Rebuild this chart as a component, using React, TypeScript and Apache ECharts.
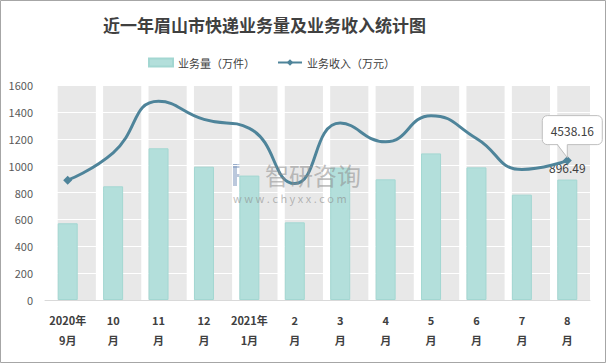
import React, { useEffect, useRef } from "react";
import * as echarts from "echarts";

const categories = [
  "2020年\n9月", "10\n月", "11\n月", "12\n月", "2021年\n1月", "2\n月",
  "3\n月", "4\n月", "5\n月", "6\n月", "7\n月", "8\n月",
];
const volume = [571, 846, 1129, 992, 926, 578, 985, 898, 1091, 987, 784, 896.49];
const income = [3900, 4790, 6470, 5880, 5590, 3790, 5760, 5150, 6000, 5260, 4250, 4538.16];
const bandValue = 1600;
const gridValues = [200, 400, 600, 800, 1000, 1200, 1400, 1600];
const legendNames = ["业务量（万件）", "业务收入（万元）"];
const titleText = "近一年眉山市快递业务量及业务收入统计图";

const FONT = "'Noto Sans CJK SC', 'Noto Sans', sans-serif";

export default function App() {
  const ref = useRef<HTMLDivElement>(null);
  useEffect(() => {
    const chart = echarts.init(ref.current as HTMLDivElement, null, { renderer: "svg" });
    const last = volume.length - 1;
    chart.setOption({
      animation: false,
      backgroundColor: "#ffffff",
      textStyle: { fontFamily: FONT },
      title: {
        text: titleText,
        left: 98,
        top: 11,
        textStyle: { fontSize: 17, fontWeight: "bold", color: "#404040", fontFamily: FONT },
      },
      legend: {
        data: [
          { name: legendNames[0], icon: "rect" },
          { name: legendNames[1] },
        ],
        left: 143,
        top: 52,
        itemWidth: 24,
        itemHeight: 8,
        itemGap: 22,
        textStyle: { fontSize: 11, color: "#404040", fontFamily: FONT },
      },
      grid: { left: 45, right: 16, top: 85, bottom: 64 },
      xAxis: {
        type: "category",
        data: categories,
        axisLine: { lineStyle: { color: "#d9d9d9" } },
        axisTick: { length: 5, lineStyle: { color: "#d9d9d9" } },
        axisLabel: {
          margin: 10,
          fontSize: 11,
          fontWeight: "bold",
          color: "#404040",
          lineHeight: 20,
          interval: 0,
          fontFamily: FONT,
        },
      },
      yAxis: [
        {
          type: "value",
          min: 0,
          max: 1600,
          interval: 200,
          axisLine: { show: false },
          axisTick: { show: false },
          splitLine: { show: false },
          axisLabel: {
            fontSize: 11,
            color: "#595959",
            margin: 12,
            fontFamily: FONT,
            formatter: (v: number) => String(v),
          },
        },
        {
          type: "value",
          min: 0,
          max: 7000,
          show: false,
          splitLine: { show: false },
        },
      ],
      series: [
        {
          type: "bar",
          name: "band",
          data: categories.map(() => bandValue),
          barWidth: "84%",
          itemStyle: { color: "#e8e8e8" },
          silent: true,
          z: 1,
          markLine: {
            silent: true,
            symbol: ["none", "none"],
            label: { show: false },
            lineStyle: { color: "#ffffff", width: 1, type: "solid" },
            data: gridValues.map((v) => ({ yAxis: v })),
            z: 2,
          },
        },
        {
          type: "bar",
          name: legendNames[0],
          data: volume.map((v, i) =>
            i === last
              ? {
                  value: v,
                  label: {
                    show: true,
                    position: "top",
                    distance: 6,
                    fontSize: 12,
                    color: "#404040",
                    fontFamily: FONT,
                  },
                }
              : v
          ),
          barWidth: 20,
          barGap: "-100%",
          itemStyle: { color: "#b3dfdb", borderColor: "#a3d7d2", borderWidth: 1 },
          z: 10,
        },
        {
          type: "line",
          name: legendNames[1],
          yAxisIndex: 1,
          smooth: 0.5,
          symbol: "diamond",
          symbolSize: 9,
          data: income.map((v, i) =>
            i === 0 || i === last ? { value: v } : { value: v, symbol: "none" }
          ),
          lineStyle: { color: "#4e849a", width: 3 },
          itemStyle: { color: "#4e849a" },
          z: 12,
        },
      ],
    });

    const [px, py] = chart.convertToPixel({ seriesIndex: 2 }, [last, income[last]]) as number[];
    const boxBottom = py - 16;
    const logoA = "rgba(120,145,185,0.5)";
    const logoB = "rgba(90,170,210,0.55)";
    chart.setOption({
      graphic: [
        {
          type: "rect",
          z: 100,
          shape: { x: 0.5, y: 0.5, width: 605, height: 362 },
          style: { fill: "none", stroke: "#a6a6a6", lineWidth: 1 },
          silent: true,
        },
        {
          type: "group",
          z: 60,
          silent: true,
          children: [
            { type: "rect", shape: { x: 233, y: 164, width: 17, height: 4 }, style: { fill: logoA } },
            { type: "rect", shape: { x: 233, y: 164, width: 4, height: 22 }, style: { fill: logoA } },
            { type: "rect", shape: { x: 246, y: 164, width: 4, height: 13 }, style: { fill: logoA } },
            { type: "rect", shape: { x: 237, y: 174, width: 10, height: 3 }, style: { fill: logoA } },
            { type: "rect", shape: { x: 253, y: 164, width: 5, height: 4 }, style: { fill: logoB } },
            { type: "rect", shape: { x: 253, y: 170, width: 5, height: 16 }, style: { fill: logoB } },
            { type: "rect", shape: { x: 240, y: 181, width: 11, height: 5 }, style: { fill: logoB } },
          ],
        },
        {
          type: "text",
          z: 60,
          silent: true,
          x: 265,
          y: 174,
          style: {
            text: "智研咨询",
            font: `24px ${FONT}`,
            fill: "rgba(140,140,140,0.55)",
            textVerticalAlign: "middle",
          },
        },
        {
          type: "text",
          z: 60,
          silent: true,
          x: 233,
          y: 198,
          style: {
            text: "w w w . c h y x x . c o m",
            font: `11px ${FONT}`,
            fill: "rgba(140,140,140,0.6)",
            textVerticalAlign: "middle",
          },
        },
        {
          type: "rect",
          z: 100,
          shape: { x: px - 25, y: py - 45, width: 60, height: 29, r: 5 },
          style: { fill: "#ffffff", stroke: "#bfbfbf", lineWidth: 1 },
        },
        {
          type: "polygon",
          z: 101,
          shape: { points: [[px - 10, boxBottom - 1], [px, boxBottom - 1], [px, py - 3]] },
          style: { fill: "#ffffff" },
        },
        {
          type: "polyline",
          z: 102,
          shape: { points: [[px - 10, boxBottom], [px, py - 3], [px, boxBottom]] },
          style: { stroke: "#bfbfbf", lineWidth: 1, fill: "none" },
        },
        {
          type: "text",
          z: 103,
          x: px + 5,
          y: py - 30.5,
          style: {
            text: String(income[last]),
            font: `12px ${FONT}`,
            fill: "#404040",
            textAlign: "center",
            textVerticalAlign: "middle",
          },
        },
      ],
    });
    return () => chart.dispose();
  }, []);

  return (
    <div
      ref={ref}
      style={{ position: "absolute", left: 0, top: 0, width: 606, height: 364 }}
    />
  );
}
